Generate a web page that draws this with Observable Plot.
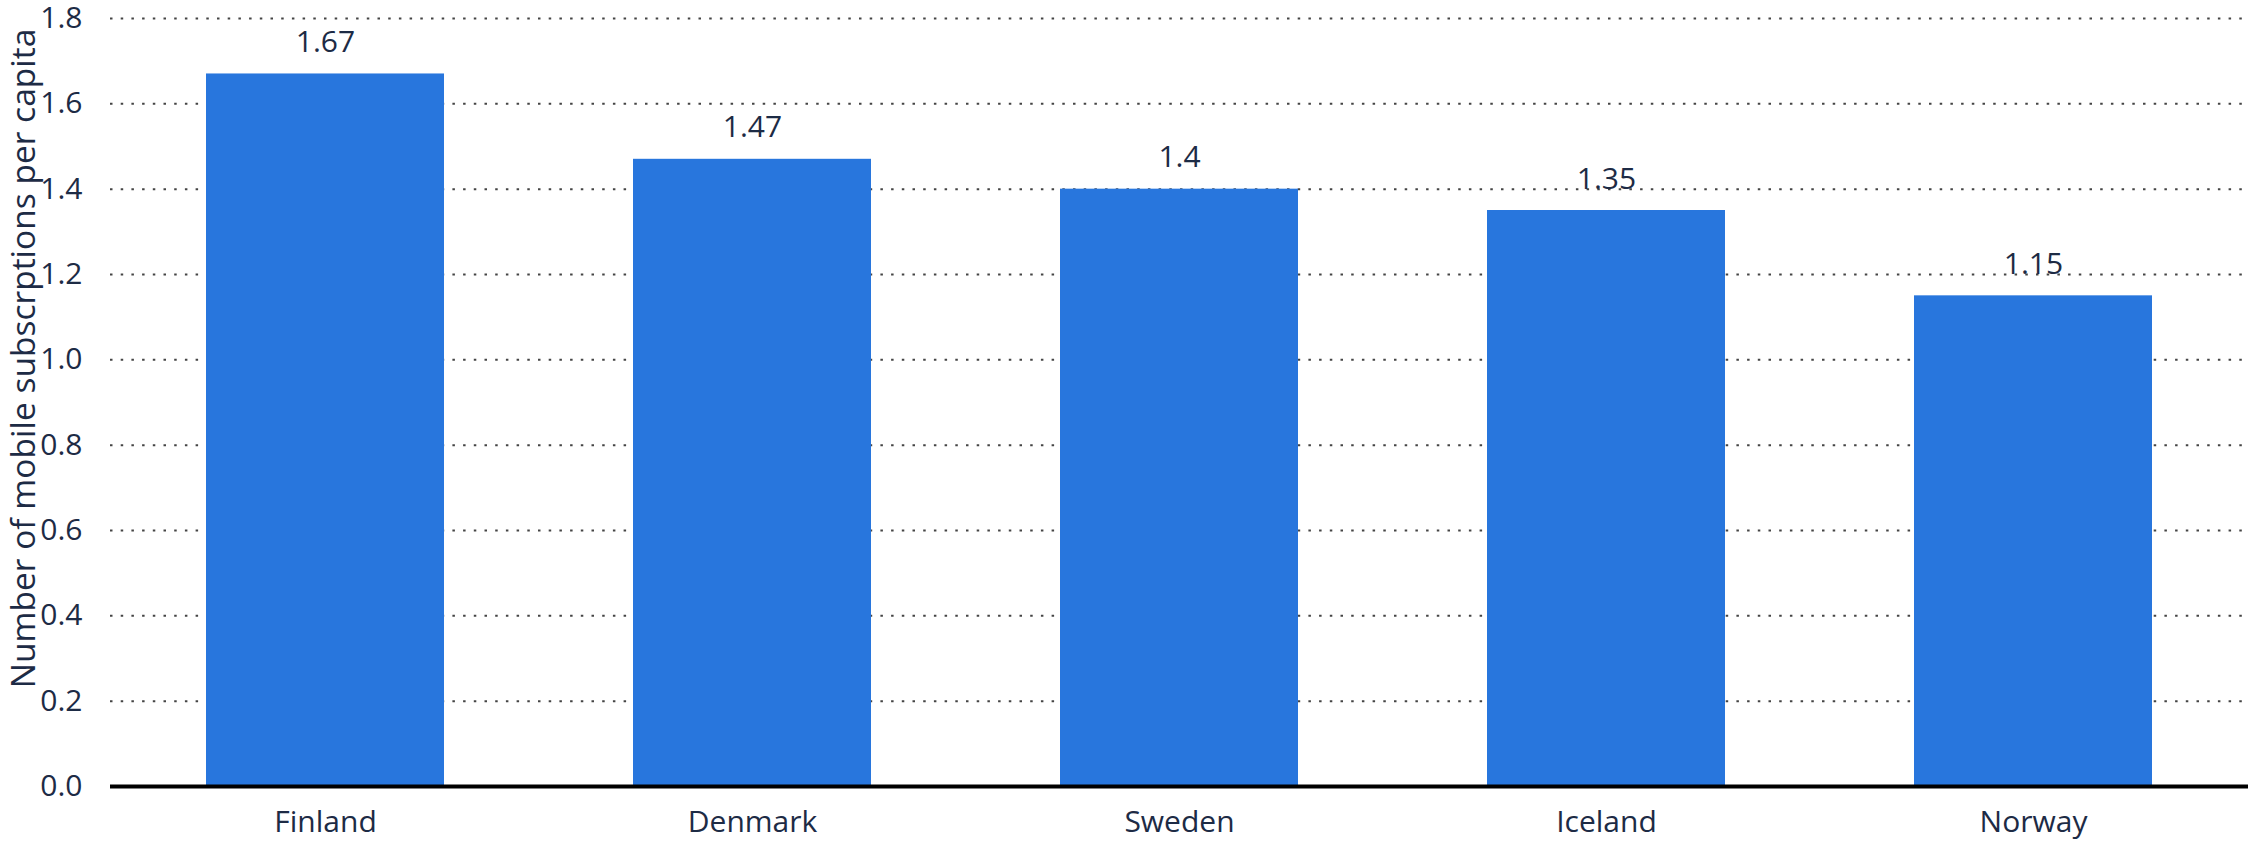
<!DOCTYPE html>
<html>
<head>
<meta charset="utf-8">
<script src="https://cdn.jsdelivr.net/npm/d3@7"></script>
<script src="https://cdn.jsdelivr.net/npm/@observablehq/plot@0.6"></script>
<style>
  html, body { margin: 0; padding: 0; background: #fff; }
  #chart svg { display: block; }
</style>
</head>
<body>
<div id="chart"></div>
<script>
const countries = ["Finland", "Denmark", "Sweden", "Iceland", "Norway"];
const values = [1.67, 1.47, 1.4, 1.35, 1.15];
const valueLabels = ["1.67", "1.47", "1.4", "1.35", "1.15"];
const yTicks = [0, 0.2, 0.4, 0.6, 0.8, 1.0, 1.2, 1.4, 1.6, 1.8];
const yLabel = "Number of mobile subscrptions per capita";

const data = countries.map((c, i) => ({country: c, value: values[i], label: valueLabels[i]}));
const textColor = "#1d2b45";

const chart = Plot.plot({
  width: 2248,
  height: 841,
  marginTop: 18,
  marginBottom: 55,
  marginLeft: 110,
  marginRight: 0,
  style: {fontFamily: "'Open Sans', sans-serif", fontSize: "30px", color: textColor, background: "white"},
  x: {domain: countries, paddingInner: 0.443, paddingOuter: 0.2215, label: null},
  y: {domain: [0, 1.8], label: null},
  marks: [
    Plot.ruleY(yTicks.filter(d => d > 0), {stroke: "#444", strokeWidth: 2, strokeDasharray: "2.5 8.2"}),
    Plot.barY(data, {x: "country", y: "value", fill: "#2876dd"}),
    Plot.ruleY([0], {stroke: "black", strokeWidth: 4}),
    Plot.text(data, {x: "country", y: "value", text: "label", dy: -22, lineAnchor: "bottom", fill: textColor, fontSize: 30}),
    Plot.axisX({tickSize: 0, tickPadding: 24, label: null, fontSize: 30, color: textColor}),
    Plot.axisY({ticks: yTicks, tickFormat: ".1f", tickSize: 0, tickPadding: 28, label: null, fontSize: 30, color: textColor}),
    Plot.text([yLabel], {text: d => d, frameAnchor: "left", textAnchor: "middle", lineAnchor: "middle", rotate: -90, dx: -86, dy: -44, fill: textColor, fontSize: 33.5})
  ]
});
document.getElementById("chart").appendChild(chart);
</script>
</body>
</html>
